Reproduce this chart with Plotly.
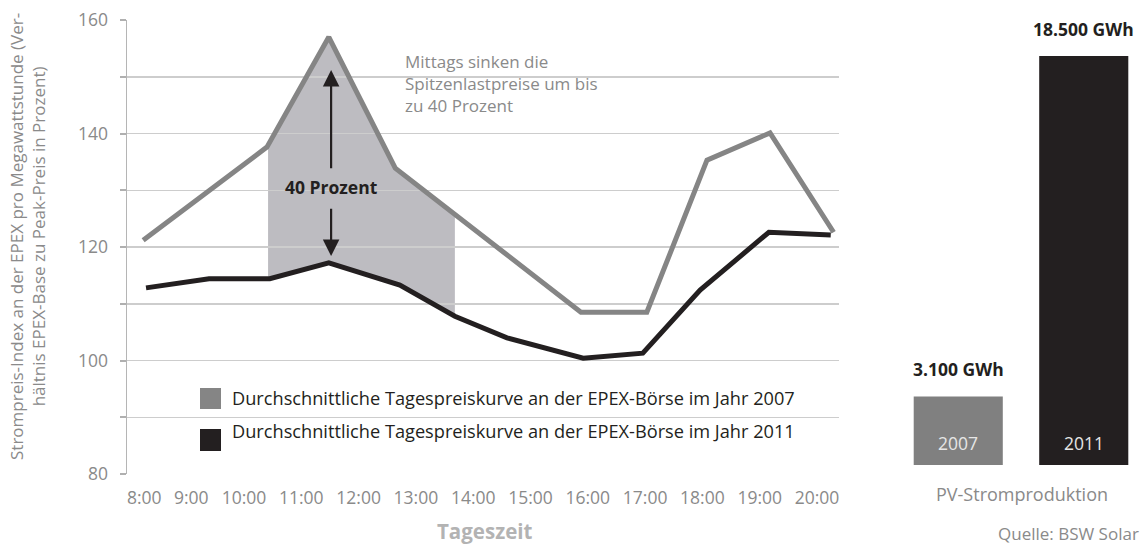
import plotly.graph_objects as go

# ---------------- data ----------------
tick_labels = ["8:00", "9:00", "10:00", "11:00", "12:00", "13:00", "14:00",
               "15:00", "16:00", "17:00", "18:00", "19:00", "20:00"]
tick_hours = [8.26, 9.08, 10, 11, 12, 13, 14, 15, 16, 17, 18, 19, 20]

hours_2007 = [8.24, 10.40, 11.48, 12.64, 15.88, 17.03, 18.08, 19.18, 20.29]
index_2007 = [121.2, 137.6, 157.0, 133.9, 108.5, 108.5, 135.3, 140.1, 122.6]

hours_2011 = [8.29, 9.39, 10.45, 11.48, 12.72, 13.68, 14.59, 15.92, 16.96, 17.96, 19.16, 20.24]
index_2011 = [112.8, 114.4, 114.4, 117.2, 113.3, 107.8, 104.0, 100.4, 101.3, 112.4, 122.6, 122.1]

# shaded midday band (upper edge = 2007 curve, lower edge = 2011 curve)
shade_top_hours = [10.42, 11.48, 12.64, 13.68]
shade_top_vals = [137.6, 157.0, 133.9, 125.3]
shade_bot_hours = [13.68, 12.72, 11.48, 10.45, 10.42]
shade_bot_vals = [107.8, 113.3, 117.2, 114.4, 114.4]

arrow_hour = 11.52
arrow_up = (133.6, 151.2)     # tail, tip
arrow_down = (127.0, 118.4)   # tail, tip
arrow_label_val = 130.6

pv_years = ["2007", "2011"]
pv_gwh = [3100, 18500]

y_ticks = [80, 90, 100, 110, 120, 130, 140, 150, 160]

# ---------------- styles ----------------
FONT = "Open Sans"
GRAY_TXT = "#8a8a8a"
DARK = "#231f20"
GRAY_LINE = "#858585"
SHADE = "#bdbcc1"
GRID = "#cdcdcd"
W, H = 1146, 547


def px(x):
    return x / W


def py(y):
    return 1 - y / H


fig = go.Figure()

# shaded band via shape below gridlines
path_pts = list(zip(shade_top_hours, shade_top_vals)) + list(zip(shade_bot_hours, shade_bot_vals))
path = "M " + " L ".join(f"{h},{v}" for h, v in path_pts) + " Z"
fig.add_shape(type="path", path=path, xref="x", yref="y", fillcolor=SHADE,
              line=dict(width=0), layer="below")

fig.add_trace(go.Scatter(x=hours_2007, y=index_2007, mode="lines",
                         line=dict(color=GRAY_LINE, width=5), showlegend=False,
                         hoverinfo="skip", xaxis="x", yaxis="y"))
fig.add_trace(go.Scatter(x=hours_2011, y=index_2011, mode="lines",
                         line=dict(color=DARK, width=5), showlegend=False,
                         hoverinfo="skip", xaxis="x", yaxis="y"))

bar_pos = list(range(len(pv_years)))
fig.add_trace(go.Bar(x=bar_pos, y=pv_gwh, marker=dict(color=["#808080", DARK]),
                     marker_line_width=0, showlegend=False, hoverinfo="skip",
                     xaxis="x2", yaxis="y2"))

annotations = []
# arrows
annotations.append(dict(x=arrow_hour, y=arrow_up[1], ax=arrow_hour, ay=arrow_up[0],
                        xref="x", yref="y", axref="x", ayref="y", text="", showarrow=True,
                        arrowhead=2, arrowsize=1.5, arrowwidth=2.2, arrowcolor=DARK))
annotations.append(dict(x=arrow_hour, y=arrow_down[1], ax=arrow_hour, ay=arrow_down[0],
                        xref="x", yref="y", axref="x", ayref="y", text="", showarrow=True,
                        arrowhead=2, arrowsize=1.5, arrowwidth=2.2, arrowcolor=DARK))
annotations.append(dict(x=arrow_hour, y=arrow_label_val, xref="x", yref="y",
                        xanchor="center", yanchor="middle",
                        text="<b>40 Prozent</b>", showarrow=False,
                        font=dict(family=FONT, size=17.5, color=DARK)))
# note text
annotations.append(dict(x=px(403), y=py(48), xref="paper", yref="paper",
                        xanchor="left", yanchor="top", align="left", showarrow=False,
                        text="Mittags sinken die<br>Spitzenlastpreise um bis<br>zu 40 Prozent",
                        font=dict(family=FONT, size=17, color=GRAY_TXT)))
# legend
fig.add_shape(type="rect", xref="paper", yref="paper", x0=px(200), x1=px(221),
              y0=py(409), y1=py(388), fillcolor=GRAY_LINE, line=dict(width=0))
fig.add_shape(type="rect", xref="paper", yref="paper", x0=px(200), x1=px(221),
              y0=py(451), y1=py(429), fillcolor=DARK, line=dict(width=0))
annotations.append(dict(x=px(230), y=py(398), xref="paper", yref="paper", xanchor="left",
                        yanchor="middle", showarrow=False,
                        text="Durchschnittliche Tagespreiskurve an der EPEX-Börse im Jahr 2007",
                        font=dict(family=FONT, size=18.2, color=DARK)))
annotations.append(dict(x=px(230), y=py(431), xref="paper", yref="paper", xanchor="left",
                        yanchor="middle", showarrow=False,
                        text="Durchschnittliche Tagespreiskurve an der EPEX-Börse im Jahr 2011",
                        font=dict(family=FONT, size=18.2, color=DARK)))
# axis titles
annotations.append(dict(x=px(27), y=py(237), xref="paper", yref="paper", textangle=-90,
                        xanchor="center", yanchor="middle",
                        showarrow=False, align="center",
                        text="Strompreis-Index an der EPEX pro Megawattstunde (Ver-<br>hältnis EPEX-Base zu Peak-Preis in Prozent)",
                        font=dict(family=FONT, size=17, color=GRAY_TXT)))
annotations.append(dict(x=px(485), y=py(531), xref="paper", yref="paper", showarrow=False,
                        xanchor="center", yanchor="middle",
                        text="<b>Tageszeit</b>", font=dict(family=FONT, size=20.5, color="#b3b3b3")))
# bar labels
for i, (yr, v) in enumerate(zip(pv_years, pv_gwh)):
    lbl = f"{v:,}".replace(",", ".") + " GWh"
    annotations.append(dict(x=bar_pos[i], y=v, xref="x2", yref="y2",
                            xanchor="center", yanchor="middle", yshift=27,
                            showarrow=False, text=f"<b>{lbl}</b>",
                            font=dict(family=FONT, size=17.5, color=DARK)))
    annotations.append(dict(x=bar_pos[i], y=0, xref="x2", yref="y2",
                            xanchor="center", yanchor="middle", yshift=22,
                            showarrow=False, text=yr,
                            font=dict(family=FONT, size=17.5, color="#e6e6e6")))
annotations.append(dict(x=px(1022), y=py(494), xref="paper", yref="paper", showarrow=False,
                        xanchor="center", yanchor="middle",
                        text="PV-Stromproduktion", font=dict(family=FONT, size=18, color=GRAY_TXT)))
annotations.append(dict(x=px(1141), y=py(533), xref="paper", yref="paper", xanchor="right",
                        yanchor="middle",
                        showarrow=False, text="Quelle: BSW Solar",
                        font=dict(family=FONT, size=17, color=GRAY_TXT)))

fig.update_layout(
    width=W, height=H,
    margin=dict(l=0, r=0, t=0, b=0, pad=0, autoexpand=False),
    paper_bgcolor="white", plot_bgcolor="white",
    font=dict(family=FONT, color=GRAY_TXT),
    showlegend=False,
    hovermode=False,
    bargap=0.29,
    annotations=annotations,
    xaxis=dict(domain=[px(127), px(839)], range=[7.958, 20.384], automargin=False,
               tickvals=tick_hours, ticktext=tick_labels,
               showgrid=False, zeroline=False, showline=False,
               ticks="outside", ticklen=8, tickcolor="rgba(0,0,0,0)",
               tickfont=dict(family=FONT, size=17.5, color=GRAY_TXT)),
    yaxis=dict(domain=[py(474), py(20)], range=[80, 160], automargin=False,
               tickvals=y_ticks, ticktext=[str(t) if t % 20 == 0 else "" for t in y_ticks],
               showgrid=True, gridcolor=GRID, gridwidth=1.5, zeroline=False,
               showline=True, linecolor="#b5b5b5", linewidth=1.5,
               ticks="outside", ticklen=6, tickwidth=2, tickcolor="#b0b0b0",
               ticklabelstandoff=8,
               tickfont=dict(family=FONT, size=17.5, color=GRAY_TXT)),
    xaxis2=dict(domain=[px(895.5), 1.0], range=[-0.5, -0.5 + (W - 895.5) / 125.5],
                automargin=False,
                showticklabels=False, showgrid=False, zeroline=False, showline=False),
    yaxis2=dict(domain=[py(465), py(56)], range=[0, 18500], anchor="x2", automargin=False,
                showticklabels=False, showgrid=False, zeroline=False, showline=False),
)

fig.write_html(
    "out.html",
    config={"displayModeBar": False, "staticPlot": True},
    post_script=("document.body.style.margin='0';"
                 "document.body.style.overflow='hidden';"
                 "document.documentElement.style.overflow='hidden';"),
)
